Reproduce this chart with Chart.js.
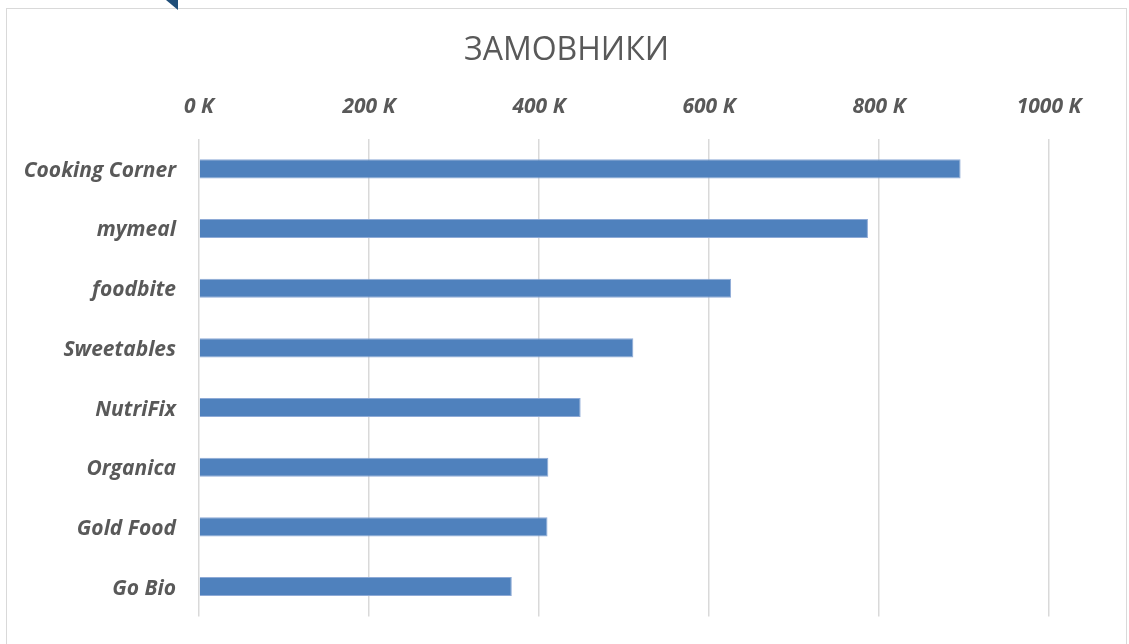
<!DOCTYPE html>
<html>
<head>
<meta charset="utf-8">
<script src="https://cdn.jsdelivr.net/npm/chart.js@4"></script>
<style>
    html, body { margin: 0; padding: 0; background: #fff; overflow: hidden; }
    .frame {
        position: absolute; left: 6px; top: 8px;
        width: 1121px; height: 645px;
        border: 1px solid #d9d9d9; box-sizing: border-box;
    }
    .corner {
        position: absolute; left: 166px; top: 0;
        width: 0; height: 0;
        border-top: 10px solid #1f4e79; border-left: 12px solid transparent;
    }
    #chart { position: absolute; left: 0; top: 0; }
</style>
</head>
<body>
<div class="frame"><canvas id="chart" width="1119" height="643"></canvas></div>
<div class="corner"></div>
<script>
// Замовники — обсяг у тисячах
const categories = ['Cooking Corner', 'mymeal', 'foodbite', 'Sweetables', 'NutriFix', 'Organica', 'Gold Food', 'Go Bio'];
const values = [896, 787, 626, 511, 449, 411, 410, 368];
const tickStep = 200;
const axisMax = 1000;

const labelFont = { family: "'Open Sans', sans-serif", size: 21, style: 'italic', weight: 'bold' };

new Chart(document.getElementById('chart'), {
    type: 'bar',
    data: {
        labels: categories,
        datasets: [{
            data: values,
            backgroundColor: '#4f81bd',
            borderColor: '#8eaad6',
            borderWidth: 1,
            categoryPercentage: 1,
            barPercentage: 0.32
        }]
    },
    options: {
        indexAxis: 'y',
        responsive: false,
        animation: false,
        layout: { padding: { left: 0, right: 0, top: 0, bottom: 34 } },
        plugins: {
            legend: { display: false },
            tooltip: { enabled: false },
            title: {
                display: true,
                text: 'ЗАМОВНИКИ',
                color: '#595959',
                font: { family: "'Open Sans', sans-serif", size: 32, weight: 'normal' },
                padding: { top: 23, bottom: 10 }
            }
        },
        scales: {
            x: {
                position: 'top',
                min: 0,
                max: axisMax,
                border: { display: false },
                grid: { color: '#d9d9d9', lineWidth: 1.5, drawTicks: false },
                ticks: {
                    stepSize: tickStep,
                    color: '#595959',
                    font: labelFont,
                    padding: 19,
                    callback: v => v + ' K'
                },
                afterFit: s => { s.height = 58.6; }
            },
            y: {
                border: { display: false },
                grid: { display: false, drawTicks: false },
                ticks: { color: '#595959', font: labelFont, padding: 23, labelOffset: 2 },
                afterFit: s => { s.width = 192; }
            },
            // empty space on the right, so the title stays centred on the whole chart
            spacer: {
                type: 'linear',
                position: 'right',
                border: { display: false },
                grid: { display: false, drawTicks: false },
                ticks: { display: false },
                afterFit: s => { s.width = 77; }
            }
        }
    }
});
</script>
</body>
</html>
